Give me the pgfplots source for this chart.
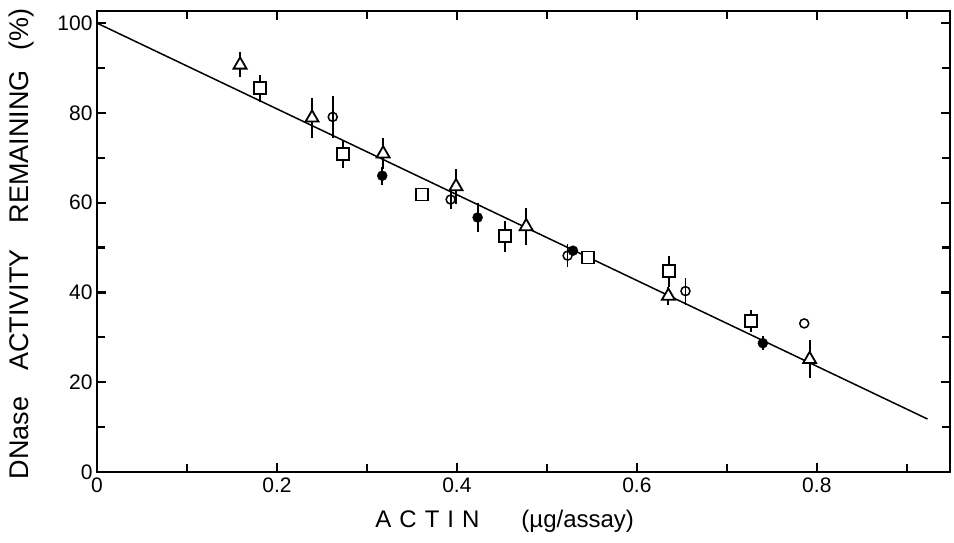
\documentclass[border=0pt]{standalone}
\usepackage{fontspec}
\setmainfont{Liberation Sans}
\usepackage{pgfplots}
\pgfplotsset{compat=1.18}

\begin{document}
\begin{tikzpicture}
\begin{axis}[
  at={(0,0)}, anchor=south west,
  scale only axis,
  width=853pt, height=461pt,
  xmin=0, xmax=0.948,
  ymin=0, ymax=102.7,
  xtick={0,0.2,0.4,0.6,0.8},
  minor xtick={0.1,0.3,0.5,0.7,0.9},
  ytick={0,20,40,60,80,100},
  minor ytick={10,30,50,70,90},
  tick align=inside,
  major tick length=9pt,
  minor tick length=8pt,
  major tick style={black, line width=2.2pt},
  minor tick style={black, line width=2.2pt},
  /pgf/number format/assume math mode=true,
  ticklabel style={font=\fontsize{21}{24}\selectfont},
  xticklabel style={yshift=-2pt},
  yticklabel style={xshift=-1pt},
  xlabel={A\,\,C\,\,T\,\,I\,\,N\hspace{42pt}(µg/assay)},
  xlabel style={font=\fontsize{24}{28}\selectfont, at={(axis description cs:0.478,0)}, yshift=-49pt, anchor=center},
  ylabel={DNase\hspace{26pt}ACTIVITY\hspace{26pt}REMAINING\hspace{20pt}(\%)},
  ylabel style={font=\fontsize{27}{30}\selectfont, at={(axis description cs:-0.088,0.495)}, anchor=center},
  clip=false,
]
  % fitted line
  \addplot[black, line width=1.5pt, no marks] coordinates {(0,100) (0.923,11.8)};

  % filled circles
  \addplot[only marks, mark=*, mark size=5pt, mark options={fill=black, draw=black},
    error bars/.cd, y dir=both, y explicit, error mark=none,
    error bar style={line width=1.8pt}]
    coordinates {
      (0.317,66.0) +- (0,2.0)
      (0.423,56.7) +- (0,3.3)
      (0.529,49.3) +- (0,1.0)
      (0.740,28.7) +- (0,1.5)
    };

  % open circles
  \addplot[only marks, mark=o, mark size=4.5pt, mark options={fill=white, draw=black, line width=1.5pt},
    error bars/.cd, y dir=both, y explicit, error mark=none,
    error bar style={line width=1.8pt}]
    coordinates {
      (0.262,79.1) +- (0,4.7)
      (0.393,60.7) +- (0,2.0)
      (0.523,48.2) +- (0,2.5)
      (0.654,40.3) +- (0,3.0)
      (0.786,33.1) +- (0,0)
    };

  % open squares
  \addplot[only marks, mark=square*, mark size=6pt, mark options={fill=white, draw=black, line width=1.8pt},
    error bars/.cd, y dir=both, y explicit, error mark=none,
    error bar style={line width=1.8pt}]
    coordinates {
      (0.181,85.5) +- (0,3.0)
      (0.273,70.9) +- (0,3.1)
      (0.361,61.8) +- (0,0)
      (0.453,52.5) +- (0,3.5)
      (0.546,47.8) +- (0,0)
      (0.636,44.7) +- (0,3.5)
      (0.727,33.6) +- (0,2.5)
    };

  % open triangles
  \addplot[only marks, mark=triangle*, mark size=7.5pt, mark options={fill=white, draw=black, line width=1.8pt},
    error bars/.cd, y dir=both, y explicit, error mark=none,
    error bar style={line width=1.8pt}]
    coordinates {
      (0.159,90.7) +- (0,2.8)
      (0.239,78.9) +- (0,4.4)
      (0.318,70.9) +- (0,3.5)
      (0.399,63.6) +- (0,4.0)
      (0.477,54.7) +- (0,4.2)
      (0.635,39.2) +- (0,2.0)
      (0.792,25.1) +- (0,4.2)
    };

  % heavy frame
  \draw[line width=2.8pt, line join=miter] (rel axis cs:0,0) rectangle (rel axis cs:1,1);
\end{axis}
\pgfresetboundingbox
\path[use as bounding box] (-97pt,-71pt) rectangle (857pt,472pt);
\end{tikzpicture}
\end{document}
